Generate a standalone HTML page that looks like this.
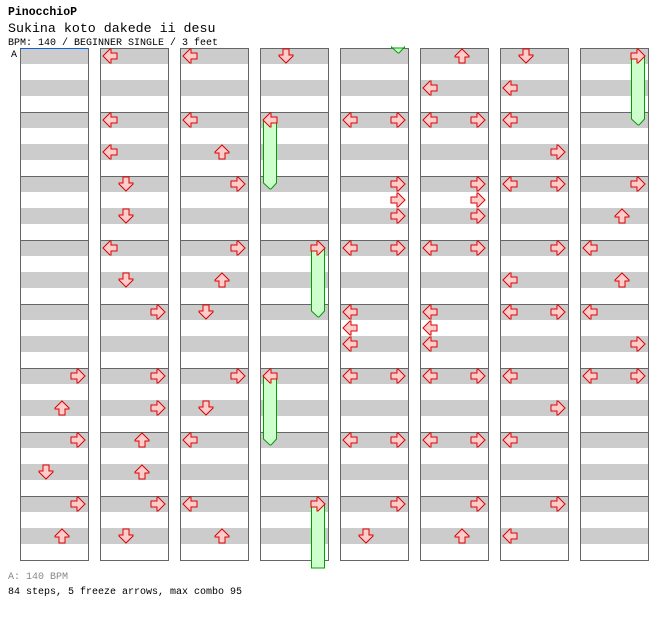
<!DOCTYPE html>
<html><head><meta charset="utf-8"><style>
body{margin:0;background:#fff;width:672px;height:620px;overflow:hidden;font-family:"Liberation Mono",monospace;}
svg{position:absolute;left:0;top:0}
</style></head><body>
<svg id="chart" width="672" height="620" xmlns="http://www.w3.org/2000/svg">
<text x="8" y="15" font-family="Liberation Mono, monospace" font-weight="bold" font-size="11.5">PinocchioP</text>
<text x="8" y="32" font-family="Liberation Mono, monospace" font-size="13.3">Sukina koto dakede ii desu</text>
<text x="8" y="45" font-family="Liberation Mono, monospace" font-size="10">BPM: 140 / BEGINNER SINGLE / 3 feet</text>
<text x="11" y="57" font-family="Liberation Mono, monospace" font-size="10">A</text>
<text x="8" y="579" fill="#888" font-family="Liberation Mono, monospace" font-size="10">A: 140 BPM</text>
<text x="8" y="594" font-family="Liberation Mono, monospace" font-size="10">84 steps, 5 freeze arrows, max combo 95</text>
</svg>
<script>
// lanes: 0=L 1=D 2=U 3=R ; beat in eighth-units (8px)
const noteCol = [
 0,0,0,0,0,0,
 1,1,1,1,1,1,1,1,1,1,1,1,1,1,
 2,2,2,2,2,2,2,2,2,2,2,2,
 3,3,3,3,3,
 4,4,4,4,4,4,4,4,4,4,4,4,4,4,4,4,
 5,5,5,5,5,5,5,5,5,5,5,5,5,5,5,5,5,5,
 6,6,6,6,6,6,6,6,6,6,6,6,6,6,6,
 7,7,7,7,7,7,7,7,7];
const noteMeasure = [
 5,5,6,6,7,7,
 0,1,1,2,2,3,3,4,5,5,6,6,7,7,
 0,1,1,2,3,3,4,5,5,6,7,7,
 0,1,3,5,7,
 1,1,2,2,2,3,3,4,4,4,5,5,6,6,7,7,
 0,0,1,1,2,2,2,3,3,4,4,4,5,5,6,6,7,7,
 0,0,1,1,2,2,3,3,4,4,5,5,6,7,7,
 0,2,2,3,3,4,4,5,5];
const noteBeat = [
 0,4,0,4,0,4,
 0,0,4,0,4,0,4,0,0,4,0,4,0,4,
 0,0,4,0,0,4,0,0,4,0,0,4,
 0,0,0,0,0,
 0,0,0,2,4,0,0,0,2,4,0,0,0,0,0,4,
 0,4,0,0,0,2,4,0,0,0,2,4,0,0,0,0,0,4,
 0,4,0,4,0,0,0,4,0,0,0,4,0,0,4,
 0,0,4,0,4,0,4,0,0];
const noteLane = [
 3,2,3,1,3,2,
 0,0,0,1,1,0,1,3,3,3,2,2,3,1,
 0,0,2,3,3,2,1,3,1,0,0,2,
 1,0,3,0,3,
 0,3,3,3,3,0,3,0,0,0,0,3,0,3,3,1,
 2,0,0,3,3,3,3,0,3,0,0,0,0,3,0,3,3,2,
 1,0,0,3,0,3,3,0,0,3,0,3,0,3,0,
 3,3,2,0,2,0,3,0,3];
// freezes: column, start measure, start beat, lane, length in eighth units
const freezeCol = [3,3,3,3,7];
const freezeMeasure = [1,3,5,7,0];
const freezeBeat = [0,0,0,0,0];
const freezeLane = [0,3,0,3,3];
const freezeLen = [8,8,8,8,8];

const NS="http://www.w3.org/2000/svg";
const svg=document.getElementById('chart');
const colX=c=>20+80*c;
const laneX=(c,l)=>colX(c)+2+16*l;
const beatY=(m,b)=>48+m*64+b*8;
function mk(tag,attrs){const e=document.createElementNS(NS,tag);for(const k in attrs)e.setAttribute(k,attrs[k]);svg.appendChild(e);return e;}

for(let c=0;c<8;c++){
  for(let m=0;m<8;m++){
    for(let s=0;s<2;s++){
      const r=mk('rect',{x:colX(c),y:beatY(m,s*4),width:68,height:16,fill:'#cccccc'});
      
      
    }
    if(m>0){const ln=mk('line',{x1:colX(c),x2:colX(c)+68,y1:beatY(m,0)+0.5,y2:beatY(m,0)+0.5,stroke:'#666'});
      
      }
  }
  const box=mk('rect',{x:colX(c)+0.5,y:48.5,width:68,height:512,fill:'none',stroke:'#666'});
  
  
}
const bl=mk('line',{x1:20,x2:88,y1:48.5,y2:48.5,stroke:'#1060d0'});



function drawFreeze(c,y0,yE,l,tail){
  const x0=laneX(c,l)+1.5,x1=laneX(c,l)+14.5,xc=laneX(c,l)+8;
  let pts;
  if(tail) pts=`${x0},${y0} ${x1},${y0} ${x1},${yE-1} ${xc+1},${yE+5} ${xc},${yE+5} ${x0},${yE-1}`;
  else pts=`${x0},${y0} ${x1},${y0} ${x1},${yE} ${x0},${yE}`;
  const p=mk('polygon',{points:pts,fill:'#ccffcc',stroke:'#00a000','stroke-width':1});
  
  
}
for(let i=0;i<freezeCol.length;i++){
  const c=freezeCol[i],l=freezeLane[i];
  const y0=beatY(freezeMeasure[i],freezeBeat[i])+8;
  const yE=y0+freezeLen[i]*8;
  if(yE>552){
    drawFreeze(c,y0,568,l,false);
    drawFreeze(c+1,48,yE-520,l,true);
  } else drawFreeze(c,y0,yE,l,true);
}
const rot=[0,270,90,180];
const arrowPts="1,8 8,1 9,1 9,5 15,5 15,11 9,11 9,15 8,15";
for(let i=0;i<noteCol.length;i++){
  const x=laneX(noteCol[i],noteLane[i]), y=beatY(noteMeasure[i],noteBeat[i]);
  const p=mk('polygon',{points:arrowPts,fill:'#ffcccc',stroke:'#dd0000','stroke-width':1,
    transform:`translate(${x},${y}) rotate(${rot[noteLane[i]]} 8 8)`});
  
  
}
</script>
</body></html>
